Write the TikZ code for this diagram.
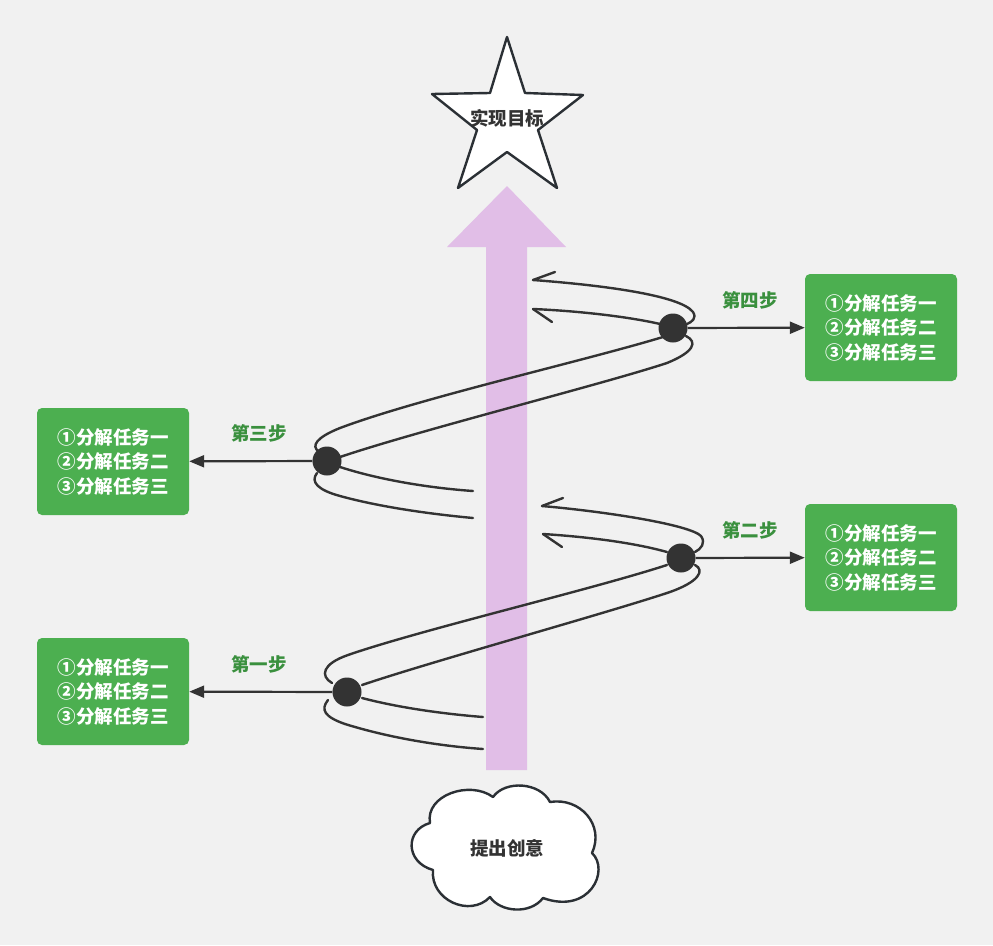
\documentclass[tikz,border=0pt]{standalone}
\usepackage{fontspec}
\setmainfont{Noto Sans CJK SC}
\usetikzlibrary{arrows.meta}
\definecolor{bg}{HTML}{F1F1F1}
\definecolor{boxgreen}{HTML}{4CAF50}
\definecolor{labelgreen}{HTML}{3A903E}
\definecolor{dark}{HTML}{333333}
\definecolor{outline}{HTML}{2B3035}
\definecolor{shaft}{HTML}{E1BEE7}
\begin{document}
\begin{tikzpicture}[x=1pt,y=-1pt,
  taskbox/.style={fill=boxgreen, rounded corners=5pt, minimum width=152pt, minimum height=107pt,
    text=white, font=\bfseries\fontsize{18.5}{24.5}\selectfont, align=center, inner sep=0pt},
  steplabel/.style={text=labelgreen, font=\bfseries\fontsize{18.5}{22}\selectfont, inner sep=0pt},
  darktext/.style={text=dark, font=\bfseries\fontsize{18.5}{22}\selectfont, inner sep=0pt},
  dotnode/.style={circle, fill=dark, minimum size=29pt, inner sep=0pt},
  spiral/.style={draw=dark, line width=2.4pt, line cap=round},
  barb/.style={draw=dark, line width=2.4pt, line cap=round},
  link/.style={draw=dark, line width=2.2pt, -{Triangle[length=15pt,width=12pt]}},
  shapeline/.style={draw=outline, line width=2.4pt, line join=round, fill=white}]
\fill[bg] (0,0) rectangle (993,945);
\useasboundingbox (0,0) rectangle (993,945);

% purple arrow
\fill[shaft] (486,770) -- (486,247) -- (447,247) -- (507,186) -- (566,247) -- (527,247) -- (527,770) -- cycle;

% star
\draw[shapeline] (507,37) -- (525,93) -- (583,95) -- (538,130) -- (557,188) -- (507,152)
  -- (458,188) -- (477,130) -- (432,94) -- (490,93) -- cycle;
\node[darktext] (goal) at (507,118) {实现目标};

% cloud
\draw[shapeline] (430,823) .. controls (425,795) and (470,780) .. (493,797)
  .. controls (505,780) and (540,782) .. (550,802)
  .. controls (580,797) and (605,825) .. (592,853)
  .. controls (610,870) and (590,915) .. (543,898)
  .. controls (530,915) and (500,912) .. (490,897)
  .. controls (470,918) and (430,900) .. (433,870)
  .. controls (405,862) and (405,830) .. (430,823) -- cycle;
\node[darktext] (idea) at (507,848) {提出创意};

% upper spiral (steps 3 and 4)
\draw[spiral] (533,280) .. controls (600,285) and (680,295) .. (693,312) .. controls (697,318) and (692,322) .. (687,324);
\draw[barb] (533,280) -- (555,272);
\draw[spiral] (533,309) .. controls (580,311) and (630,317) .. (660,324);
\draw[barb] (533,309) -- (552,322);
\draw[spiral] (663,337) .. controls (580,362) and (420,398) .. (340,428) .. controls (315,438) and (312,446) .. (318,451);
\draw[spiral] (686,336) .. controls (698,342) and (694,352) .. (667,363) .. controls (600,385) and (420,430) .. (340,457);
\draw[spiral] (340,467) .. controls (380,480) and (430,488) .. (473,491);
\draw[spiral] (317,473) .. controls (310,482) and (318,490) .. (340,496) .. controls (380,507) and (430,514) .. (473,518);

% lower spiral (steps 1 and 2)
\draw[spiral] (542,506) .. controls (610,512) and (690,525) .. (701,536) .. controls (706,543) and (701,549) .. (695,552);
\draw[barb] (542,506) -- (563,498);
\draw[spiral] (543,534) .. controls (590,537) and (635,543) .. (667,552);
\draw[barb] (543,534) -- (562,547);
\draw[spiral] (667,565) .. controls (590,590) and (420,630) .. (348,655) .. controls (322,664) and (320,676) .. (332,683);
\draw[spiral] (695,565) .. controls (705,570) and (700,582) .. (667,593) .. controls (600,615) and (430,662) .. (362,685);
\draw[spiral] (362,698) .. controls (400,708) and (445,714) .. (483,717);
\draw[spiral] (328,700) .. controls (320,710) and (325,717) .. (345,724) .. controls (390,738) and (440,746) .. (483,749);

% dots
\node[dotnode] (d4) at (673,328) {};
\node[dotnode] (d3) at (327,461) {};
\node[dotnode] (d2) at (681,558) {};
\node[dotnode] (d1) at (347,692) {};

% boxes
\node[taskbox] (b4) at (881,327.5) {①分解任务一\\②分解任务二\\③分解任务三};
\node[taskbox] (b3) at (113,461.5) {①分解任务一\\②分解任务二\\③分解任务三};
\node[taskbox] (b2) at (881,557.5) {①分解任务一\\②分解任务二\\③分解任务三};
\node[taskbox] (b1) at (113,691.5) {①分解任务一\\②分解任务二\\③分解任务三};

% links
\draw[link] (d4) -- (b4);
\draw[link] (d3) -- (b3);
\draw[link] (d2) -- (b2);
\draw[link] (d1) -- (b1);

% labels
\node[steplabel] (s4) at (750,300) {第四步};
\node[steplabel] (s3) at (259,433) {第三步};
\node[steplabel] (s2) at (750,530) {第二步};
\node[steplabel] (s1) at (259,664) {第一步};
\end{tikzpicture}
\end{document}
